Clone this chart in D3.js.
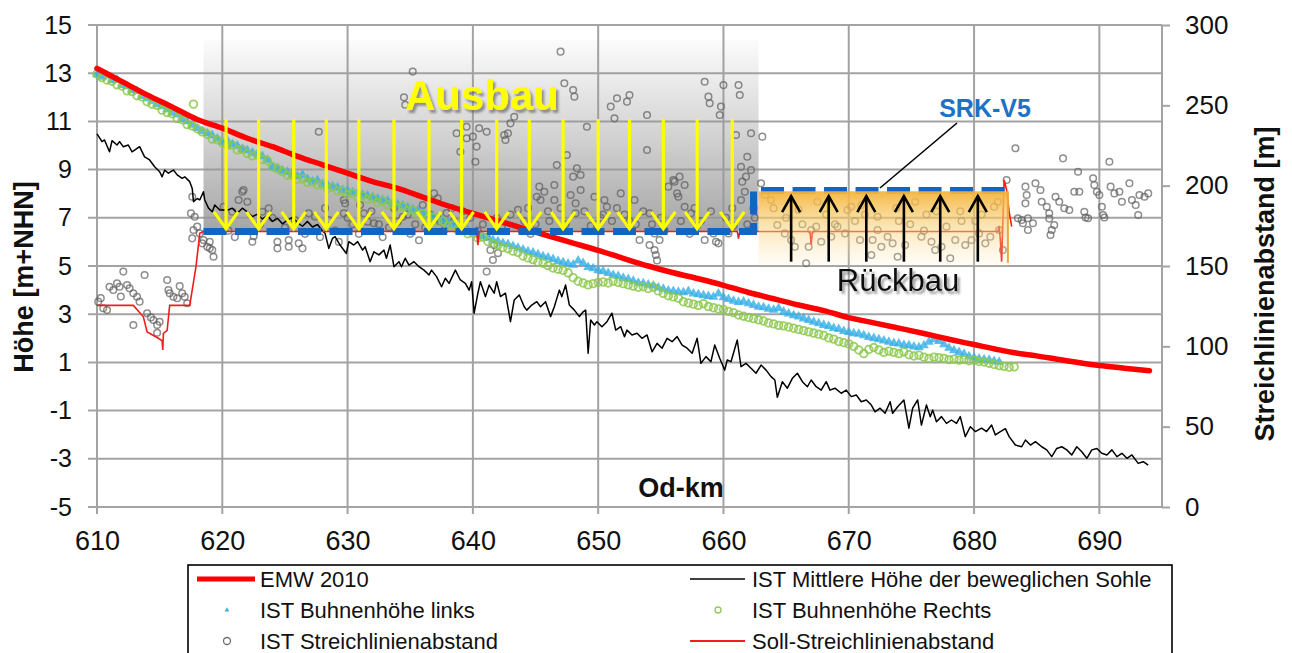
<!DOCTYPE html>
<html>
<head>
<meta charset="utf-8">
<script src="https://cdn.jsdelivr.net/npm/d3@7"></script>
<style>
  body { margin: 0; background: #fff; }
  text { font-family: "Liberation Sans", Arial, sans-serif; fill: #111; }
</style>
</head>
<body>
<svg id="chart" width="1292" height="653"></svg>
<script>
// ---- data (Od-km, Höhe m+NHN / Abstand m) ----
var kmTicks = [610, 620, 630, 640, 650, 660, 670, 680, 690],
    hTicks = [-5, -3, -1, 1, 3, 5, 7, 9, 11, 13, 15],
    mTicks = [0, 50, 100, 150, 200, 250, 300];

var legendLabels = ["EMW 2010", "IST Mittlere Höhe der beweglichen Sohle", "IST Buhnenhöhe links",
  "IST Buhnenhöhe Rechts", "IST Streichlinienabstand", "Soll-Streichlinienabstand"];

// EMW 2010 (left axis)
var emw2010 = [[610,13.2],[612,12.65],[614,12.1],[616,11.6],[618,11.08],[620,10.72],[622,10.3],[624,9.95],
  [626,9.55],[628,9.2],[630,8.85],[632,8.5],[634,8.22],[636,7.86],[638,7.5],[640,7.18],[642,6.88],[644,6.56],
  [646,6.25],[648,5.95],[650,5.65],[652,5.32],[654,5.0],[656,4.72],[658,4.47],[660,4.2],[662,3.9],[664,3.64],
  [666,3.38],[668,3.15],[670,2.86],[672,2.64],[674,2.42],[676,2.2],[678,1.96],[680,1.74],[682,1.52],[683,1.42],
  [685,1.27],[687,1.1],[690,0.87],[692,0.76],[694,0.65]];

// IST mittlere Höhe der beweglichen Sohle (left axis)
var sohle = [[610.0,10.48],[610.4,10.16],[610.6,10.23],[611.0,9.74],[611.2,10.2],[611.6,10.02],[611.8,10.16],
  [612.1,9.95],[612.5,10.02],[612.8,9.74],[613.2,9.88],[613.4,9.95],[613.8,9.53],[614.2,9.4],[614.6,9.12],
  [615.0,8.91],[615.2,8.7],[615.4,8.98],[615.7,8.85],[616.1,8.98],[616.4,8.78],[616.8,8.64],[617.0,8.7],
  [617.4,8.5],[617.6,8.22],[617.7,7.67],[618.0,7.8],[618.2,7.74],[618.5,8.08],[618.6,7.74],[618.9,7.4],
  [619.2,7.25],[619.4,7.53],[619.8,7.32],[620.4,7.32],[620.8,7.4],[621.2,7.19],[621.6,7.4],[622.0,7.25],
  [622.4,7.05],[622.8,7.15],[623.2,6.95],[623.6,7.1],[624.0,6.85],[624.4,6.98],[624.8,6.75],[625.2,6.9],
  [625.6,7.02],[626.0,6.8],[626.4,6.65],[626.8,6.85],[627.2,6.62],[627.6,6.72],[628.0,6.45],[628.2,6.36],
  [628.5,5.73],[628.8,6.15],[629.0,6.22],[629.4,5.87],[629.9,5.52],[630.1,6.01],[630.5,5.87],[630.8,6.01],
  [631.2,5.66],[631.4,5.8],[631.8,5.18],[632.1,5.59],[632.5,5.46],[632.9,5.66],[633.1,5.32],[633.4,5.87],
  [633.7,4.97],[634.1,5.18],[634.3,4.97],[634.6,5.32],[634.9,5.04],[635.3,5.18],[635.7,4.97],[636.1,4.83],
  [636.5,4.63],[636.7,4.83],[637.1,4.56],[637.5,4.14],[637.8,4.49],[638.1,4.28],[638.6,4.83],[639.0,4.42],
  [639.4,4.28],[639.7,4.0],[639.9,4.35],[640.1,3.04],[640.4,3.87],[640.6,4.35],[641.0,3.73],[641.3,4.21],
  [641.7,3.87],[641.9,4.35],[642.2,3.73],[642.6,3.87],[643.0,2.69],[643.3,3.59],[643.7,3.8],[644.1,3.31],
  [644.3,3.17],[644.7,3.38],[645.1,3.52],[645.4,3.31],[645.8,3.52],[646.2,2.9],[646.5,3.31],[646.9,4.0],
  [647.1,3.73],[647.4,4.21],[647.7,3.38],[648.1,3.17],[648.5,2.9],[648.8,3.1],[649.0,3.17],[649.2,1.38],
  [649.4,2.76],[649.7,2.55],[649.9,2.69],[650.3,2.48],[650.7,2.69],[651.1,3.04],[651.4,2.34],[651.8,2.48],
  [652.1,2.07],[652.3,2.34],[652.7,2.14],[653.1,2.21],[653.5,2.0],[653.9,2.14],[654.3,1.44],[654.7,1.79],
  [655.1,1.59],[655.5,2.0],[655.9,1.86],[656.3,2.07],[656.7,1.72],[657.1,1.59],[657.5,1.38],[657.9,2.0],
  [658.2,0.96],[658.6,1.24],[659.0,1.03],[659.3,1.72],[659.7,1.17],[660.1,0.68],[660.3,1.1],[660.6,1.03],
  [661.1,1.93],[661.4,0.82],[661.8,0.96],[662.2,0.76],[662.6,0.55],[663.0,0.89],[663.4,0.68],[663.8,0.41],
  [664.1,0.27],[664.3,-0.45],[664.7,0.2],[665.1,-0.07],[665.5,0.34],[665.9,0.55],[666.3,0.2],[666.7,-0.01],
  [667.0,0.27],[667.4,-0.01],[667.8,-0.15],[668.2,0.2],[668.5,-0.15],[668.9,-0.07],[669.4,-0.28],[669.8,-0.15],
  [670.2,-0.42],[670.6,-0.35],[671.0,-0.63],[671.4,-0.56],[671.8,-0.77],[672.1,-1.05],[672.5,-0.9],[672.9,-1.11],
  [673.3,-0.63],[673.5,-1.11],[673.9,-0.84],[674.4,-0.56],[674.8,-1.73],[675.1,-0.9],[675.5,-0.56],[675.8,-1.6],
  [676.2,-0.77],[676.5,-1.25],[676.7,-0.98],[677.0,-1.46],[677.4,-1.25],[677.8,-1.53],[678.2,-1.39],[678.6,-1.53],
  [678.9,-1.25],[679.3,-2.08],[679.7,-1.67],[680.1,-1.87],[680.6,-1.73],[681.0,-1.87],[681.4,-1.6],[681.7,-2.01],
  [682.1,-1.87],[682.5,-1.75],[682.8,-2.08],[683.3,-2.43],[683.8,-2.5],[684.1,-2.22],[684.5,-2.43],[684.9,-2.29],
  [685.4,-2.5],[685.8,-2.63],[686.2,-2.91],[686.6,-2.57],[687.0,-2.5],[687.4,-2.63],[687.8,-2.84],[688.2,-2.5],
  [688.6,-2.71],[689.0,-2.98],[689.4,-2.63],[689.8,-2.57],[690.2,-2.77],[690.6,-2.84],[691.0,-2.63],[691.4,-2.91],
  [691.8,-2.77],[692.2,-2.98],[692.6,-2.84],[693.1,-3.19],[693.5,-3.12],[693.9,-3.26]];

// IST Buhnenhöhe links (left axis)
var buhneLinks = [[610.0,12.95],[610.4,12.85],[610.8,12.9],[611.2,12.7],[611.6,12.72],[612.0,12.5],[612.4,12.45],
  [612.8,12.3],[613.2,12.25],[613.6,12.05],[614.0,11.95],[614.4,11.85],[614.8,11.7],[615.2,11.62],[615.6,11.5],
  [616.0,11.35],[616.4,11.28],[616.8,11.1],[617.2,11.0],[617.6,10.85],[618.0,10.72],[618.4,10.6],[618.8,10.5],
  [619.2,10.42],[619.6,10.28],[620.0,10.15],[620.4,10.2],[620.8,10.05],[621.2,9.98],[621.6,9.85],[622.0,9.8],
  [622.4,9.7],[622.8,9.65],[623.2,9.55],[623.6,9.4],[624.0,9.1],[624.4,9.05],[624.8,8.95],[625.2,8.9],[625.6,8.8],
  [626.0,8.72],[626.4,8.78],[626.8,8.6],[627.2,8.5],[627.6,8.55],[628.0,8.4],[628.4,8.35],[628.8,8.3],[629.2,8.25],
  [629.6,8.15],[630.0,8.12],[630.4,8.05],[630.8,8.02],[631.2,7.95],[631.6,7.92],[632.0,7.85],[632.4,7.78],
  [632.8,7.72],[633.2,7.7],[633.6,7.6],[634.0,7.55],[634.4,7.5],[634.8,7.42],[635.2,7.35],[635.6,7.28],[636.0,7.2],
  [636.4,7.12],[636.8,7.05],[637.2,6.98],[637.6,6.9],[638.0,6.82],[638.4,6.72],[638.8,6.65],[639.2,6.55],
  [639.6,6.48],[640.0,6.4],[640.4,6.3],[640.8,6.22],[641.2,6.18],[641.6,6.08],[642.0,6.02],[642.4,5.95],[642.8,5.9],
  [643.2,5.82],[643.6,5.75],[644.0,5.68],[644.4,5.6],[644.8,5.55],[645.2,5.48],[645.6,5.4],[646.0,5.35],
  [646.4,5.28],[646.8,5.2],[647.2,5.15],[647.6,5.1],[648.0,5.05],[648.4,5.22],[648.8,5.12],[649.2,4.95],[649.6,4.9],
  [650.0,4.82],[650.4,4.78],[650.8,4.7],[651.2,4.62],[651.6,4.58],[652.0,4.5],[652.4,4.45],[652.8,4.38],[653.2,4.3],
  [653.6,4.28],[654.0,4.22],[654.4,4.18],[654.8,4.1],[655.2,4.05],[655.6,3.98],[656.0,3.95],[656.4,3.92],[656.8,3.9],
  [657.2,3.95],[657.6,3.85],[658.0,3.82],[658.4,3.78],[658.8,3.75],[659.2,3.72],[659.6,3.85],[660.0,3.7],
  [660.4,3.62],[660.8,3.55],[661.2,3.5],[661.6,3.52],[662.0,3.45],[662.4,3.38],[662.8,3.3],[663.2,3.28],
  [663.6,3.22],[664.0,3.18],[664.4,3.25],[664.8,3.1],[665.2,3.02],[665.6,2.95],[666.0,2.9],[666.4,2.82],
  [666.8,2.75],[667.2,2.68],[667.6,2.62],[668.0,2.55],[668.4,2.5],[668.8,2.42],[669.2,2.38],[669.6,2.3],
  [670.0,2.25],[670.4,2.2],[670.8,2.18],[671.2,2.12],[671.6,2.05],[672.0,2.0],[672.4,1.95],[672.8,1.9],
  [673.2,1.85],[673.6,1.8],[674.0,1.78],[674.4,1.72],[674.8,1.7],[675.2,1.65],[675.6,1.62],[676.0,1.7],
  [676.4,1.85],[676.8,1.95],[677.2,1.88],[677.6,1.75],[678.0,1.6],[678.4,1.5],[678.8,1.42],[679.2,1.35],
  [679.6,1.25],[680.0,1.2],[680.4,1.15],[680.8,1.12],[681.2,1.1],[681.6,1.05],[682.0,1.02]];

// IST Buhnenhöhe Rechts (left axis)
var buhneRechts = [[610.0,13.05],[610.4,12.9],[610.8,12.8],[611.2,12.75],[611.6,12.6],[612.0,12.55],[612.4,12.35],
  [612.8,12.32],[613.2,12.15],[613.6,12.1],[614.0,11.9],[614.4,11.8],[614.8,11.75],[615.2,11.55],[615.6,11.45],
  [616.0,11.4],[616.4,11.2],[616.8,11.15],[617.2,10.95],[617.6,10.9],[617.7,11.8],[618.0,10.78],[618.4,10.65],
  [618.8,10.55],[619.2,10.35],[619.6,10.32],[620.0,10.2],[620.4,10.1],[620.8,10.1],[621.2,9.9],[621.6,9.92],
  [622.0,9.75],[622.4,9.65],[622.8,9.7],[623.2,9.5],[623.6,9.45],[624.0,9.2],[624.4,9.12],[624.8,9.0],[625.2,8.85],
  [625.6,8.85],[626.0,8.68],[626.4,8.7],[626.8,8.55],[627.2,8.58],[627.6,8.45],[628.0,8.45],[628.4,8.3],
  [628.8,8.35],[629.2,8.2],[629.6,8.2],[630.0,8.05],[630.4,8.1],[630.8,7.95],[631.2,8.0],[631.6,7.85],[632.0,7.9],
  [632.4,7.72],[632.8,7.78],[633.2,7.62],[633.6,7.65],[634.0,7.5],[634.4,7.55],[634.8,7.38],[635.2,7.4],
  [635.6,7.22],[636.0,7.25],[636.4,7.05],[636.8,7.1],[637.2,6.92],[637.6,6.95],[638.0,6.75],[638.4,6.78],
  [638.8,6.58],[639.2,6.6],[639.6,6.42],[640.0,6.45],[640.4,6.25],[640.8,6.28],[641.2,6.1],[641.6,6.0],
  [642.0,5.95],[642.4,5.85],[642.8,5.8],[643.2,5.7],[643.6,5.65],[644.0,5.5],[644.4,5.42],[644.8,5.35],
  [645.2,5.25],[645.6,5.2],[646.0,5.1],[646.4,5.0],[646.8,4.95],[647.2,4.9],[647.6,4.8],[648.0,4.6],[648.4,4.45],
  [648.8,4.38],[649.2,4.3],[649.6,4.35],[650.0,4.4],[650.4,4.42],[650.8,4.38],[651.2,4.45],[651.6,4.4],
  [652.0,4.35],[652.4,4.3],[652.8,4.25],[653.2,4.2],[653.6,4.22],[654.0,4.15],[654.4,4.2],[654.8,4.05],
  [655.2,3.95],[655.6,3.85],[656.0,3.8],[656.4,3.75],[656.8,3.6],[657.2,3.55],[657.6,3.5],[658.0,3.45],
  [658.4,3.52],[658.8,3.4],[659.2,3.35],[659.6,3.3],[660.0,3.28],[660.4,3.2],[660.8,3.15],[661.2,3.05],
  [661.6,3.0],[662.0,2.95],[662.4,2.9],[662.8,2.85],[663.2,2.8],[663.6,2.72],[664.0,2.68],[664.4,2.62],
  [664.8,2.6],[665.2,2.55],[665.6,2.5],[666.0,2.45],[666.4,2.4],[666.8,2.35],[667.2,2.3],[667.6,2.25],
  [668.0,2.2],[668.4,2.1],[668.8,2.05],[669.2,1.95],[669.6,1.9],[670.0,1.85],[670.4,1.75],[670.8,1.6],
  [671.2,1.45],[671.6,1.62],[672.0,1.7],[672.4,1.6],[672.8,1.5],[673.2,1.55],[673.6,1.5],[674.0,1.45],
  [674.4,1.52],[674.8,1.4],[675.2,1.35],[675.6,1.38],[676.0,1.3],[676.4,1.25],[676.8,1.3],[677.2,1.28],
  [677.6,1.25],[678.0,1.2],[678.4,1.22],[678.8,1.18],[679.2,1.2],[679.6,1.15],[680.0,1.18],[680.4,1.12],
  [680.8,1.1],[681.2,1.05],[681.6,1.0],[682.0,0.95],[682.4,0.92],[682.8,0.88],[683.2,0.9]];

// IST Streichlinienabstand (right axis, m)
var streichIst = [[610.1,127.8],[610.3,130],[610.5,123.7],[610.8,122.6],[611.0,137.1],[611.3,135.1],[611.6,139.2],
  [611.8,137.1],[611.9,131],[612.1,146.5],[612.4,138.2],[612.6,136.1],[612.9,133.0],[612.9,113.3],[613.2,130.9],
  [613.4,127.8],[613.8,144.4],[614.0,120.6],[614.3,118],[614.5,116.4],[614.8,113.3],[614.8,108.5],[615.0,115.3],
  [615.6,141.3],[615.7,135.1],[615.8,133.0],[616.1,130.9],[616.4,129.9],[616.6,137.5],[616.8,133.0],[617.0,130.9],
  [617.2,126.8],[617.5,182.8],[617.6,193.1],[617.6,167.2],[617.7,172.4],[617.8,180.7],[618.0,174.5],[618.2,170.3],
  [618.4,164.1],[618.5,166.2],[618.8,162.0],[619.0,165.1],[619.0,161.0],[619.2,160.0],[619.3,155.8],
  [620.1,186.9],[620.5,172],[620.8,183.8],[621.0,168],[621.3,191.1],[621.6,196.2],[621.7,197.3],[622.0,190.0],
  [622.4,165.1],[622.5,168.5],[623.0,176],[623.2,183.8],[623.7,185.9],[624.0,180],[624.4,165.1],[624.4,161.0],
  [625.0,174],[625.3,166.2],[625.3,162.0],[625.8,178.6],[626.1,164.1],[626.4,161.0],[626.6,170],[626.9,182.8],
  [627.4,180.7],[627.7,233.6],[627.8,168],[628.2,186],[628.5,178.6],[629.0,172],[629.3,165],[629.7,191.1],
  [629.8,189.0],[629.7,182.8],[630.0,180],[630.4,176],[630.9,170],[631.0,188],[631.3,182.8],[631.6,177.6],
  [631.9,184],[632.1,176.6],[632.5,176],[632.8,168],[633.3,174],[633.7,186],[634.0,177.6],[634.4,180.7],
  [634.5,255],[634.6,250.4],[634.8,182],[635.2,271.0],[635.0,170],[635.4,176],[635.7,166],[636.0,188],
  [636.2,174],[636.6,182],[636.9,195.2],[637.2,192.1],[637.2,179.7],[637.4,177.6],[637.7,172],[637.9,183],
  [638.3,186],[638.5,178],[638.7,232.6],[639.0,221.1],[639.2,184],[639.5,236.7],[639.5,229.5],[639.8,180],
  [640.0,230.5],[640.2,214.9],[640.3,224.3],[640.4,172],[640.5,235.7],[640.8,176],[641.1,233.6],[641.1,168.2],
  [641.4,160.0],[641.6,153.7],[641.7,163.1],[641.1,146.5],[641.9,180],[642.0,158],[642.3,174],[642.5,231.5],
  [642.6,228.4],[642.8,232.6],[643.0,238.8],[643.0,182],[643.3,242.9],[643.6,185],[643.9,172],[644.1,178],
  [644.4,186],[644.6,170],[645.0,176],[645.1,193.1],[645.3,199.4],[645.4,191.1],[645.7,196.2],[646.0,184],
  [646.1,178],[646.5,200.4],[646.5,191.1],[646.7,212.9],[647.0,283.4],[647.0,186],[647.3,263.7],[647.4,176],
  [647.5,219.1],[647.8,194.2],[648.0,259.5],[648.0,205.6],[648.1,255.4],[648.2,189.0],[648.2,182.8],[648.3,210.8],
  [648.6,206.6],[648.6,197.3],[648.9,184],[649.1,236.7],[649.4,175],[649.7,193.1],[649.9,176],[650.2,180],
  [650.4,182],[650.5,191.1],[650.7,186.9],[651.0,249.2],[651.1,178],[651.3,241.9],[651.5,254.4],[651.5,186],
  [651.8,195.2],[652.1,182],[652.3,252.3],[652.5,256.4],[652.5,178],[652.9,191.1],[653.0,176],[653.3,166.2],
  [653.6,184],[653.9,244.0],[653.9,222.2],[654.1,182.8],[654.1,163.1],[654.3,176],[654.5,170.3],[654.5,160.0],
  [654.6,156.8],[654.7,153.5],[654.9,166.2],[655.0,180],[655.3,172],[655.6,199.4],[656.0,203.5],[656.1,202.5],
  [656.3,195.2],[656.4,193.1],[656.5,205.6],[656.6,178],[656.9,200.4],[656.9,186.9],[657.3,170],[657.4,182.8],
  [657.7,186],[657.9,175],[658.2,178],[658.5,264.7],[658.5,166.2],[658.8,255.4],[658.9,251.3],[659.0,184],
  [659.2,170.3],[659.4,165.1],[659.6,164.1],[659.7,244.0],[659.8,249.2],[660.0,262.6],[660.2,180],[660.4,170.3],
  [660.7,186],[660.8,175],[661.0,231.5],[661.2,262.6],[661.3,256.4],[661.4,211.8],[661.4,191.1],[661.5,202.5],
  [661.7,196.2],[661.8,205.6],[661.9,218.0],[661.9,176],[662.2,232.6],[662.2,209.7],[662.4,186],[662.5,180],
  [663.1,230.5],[663.0,201.5],[663.3,194.2],[663.8,191.1],[664.0,186],[664.3,175.5],[664.9,170.3],[665.0,180],
  [665.4,166.2],[665.7,162.0],[666.0,185],[666.3,176],[666.6,151.7],[666.8,162.0],[667.0,172.4],[667.4,174.5],
  [667.5,190.0],[667.8,165.1],[668.2,182],[668.6,168.2],[668.9,176],[669.1,174.5],[669.7,170.3],[669.9,184.9],
  [670.2,186.9],[670.5,178],[670.9,166.2],[671.0,188],[671.3,182],[671.8,156.8],[671.9,166.2],[672.3,172.4],
  [672.3,180.7],[672.6,162.0],[673.1,168.2],[673.5,164.1],[673.8,186],[673.9,155.8],[674.0,178],[674.5,163.1],
  [674.9,176],[675.3,190.0],[675.8,168.2],[676.0,172],[676.2,182],[676.6,165.1],[676.9,160.0],[677.0,184],
  [677.4,162.0],[677.8,174.5],[678.1,154.8],[678.5,166.2],[678.9,184],[679.0,178],[679.3,163.1],[679.8,166.2],
  [680.1,178],[680.4,170.3],[680.6,182],[680.9,164.1],[681.3,168.2],[681.6,186.9],[681.9,190],[682.0,172.4],
  [682.3,160],[682.6,203.5],[683.3,223.3],[683.5,179.7],[683.8,178.6],[683.9,176.6],[684.1,199.4],[684.1,189.0],
  [684.2,194.2],[684.3,179.7],[684.3,172.4],[684.7,176.6],[684.9,201.5],[685.3,197.3],[685.4,190.0],[685.8,186.9],
  [686.0,182.8],[686.0,179.5],[686.1,169.3],[686.2,172.4],[686.4,175.5],[686.5,193.1],[686.8,190.0],[687.1,217.0],
  [687.2,185.9],[687.6,184.9],[688.0,196.2],[688.3,208.7],[688.4,196.2],[688.8,183.8],[688.9,180.2],[689.1,179.7],
  [689.5,204.6],[689.6,200.4],[689.8,196.2],[690.0,194.2],[690.2,186.9],[690.3,181.7],[690.4,180.2],[690.8,214.9],
  [690.9,199.4],[691.2,195.2],[691.6,196.2],[691.8,190.0],[692.4,201.5],[692.6,191.1],[692.9,188.0],[693.1,181.7],
  [693.2,194.2],[693.6,193.1],[693.9,195.2]];

// Soll-Streichlinienabstand (right axis, m)
var streichSoll = [[610,125.5],[612.9,125.5],[613.7,118.4],[614.0,109],[614.9,105],[615.2,103.5],[615.25,97.7],
  [615.3,108],[615.6,110],[615.8,125.5],[617.4,125.5],[617.9,149.6],[618.2,170.3],[618.5,171.5],[640.3,171.5],
  [640.4,163],[640.5,171.5],[661.1,171.5],[661.2,167],[661.3,171.5],[666.9,171.5],[667.0,163.5],[667.1,171.5],
  [681.9,171.5],[682.0,175],[682.1,166],[682.2,152.7],[682.4,203.5],[682.6,197.3],[682.8,183.8],[683.0,174.5]];

// Planung SRK-V5 (right axis, m)
var srkV5 = [[618.5,171.5],[662.4,171.5],[662.4,197],[682.6,197]];

// Annotations
var ausbauArrowKm = [620.3,622.9,625.7,628.3,630.9,633.7,636.5,639.1,641.9,644.5,647.2,650.0,652.5,655.2,657.9,660.7],
    ausbauArrowH = [11.1, 6.5],
    rueckbauArrowKm = [665.4,668.4,671.4,674.4,677.3,680.3],
    rueckbauArrowH = [5.18, 7.9],
    ausbauZone = { km: [618.5, 662.8], h: [14.4, 6.45] },
    rueckbauZone = { km: [662.8, 682.7], h: [8.1, 5.0] };

// ---- chart ----
var svg = d3.select("#chart");
var x = d3.scaleLinear().domain([610, 695]).range([97, 1162]),
    yL = d3.scaleLinear().domain([-5, 15]).range([507, 25]),
    yR = d3.scaleLinear().domain([0, 300]).range([507, 25]);

var gridCol = "#a3a3a3";

var defs = svg.append("defs");
var gGrey = defs.append("linearGradient").attr("id", "greyGrad")
    .attr("x1", 0).attr("y1", 0).attr("x2", 0).attr("y2", 1);
gGrey.append("stop").attr("offset", "0%").attr("stop-color", "#969696").attr("stop-opacity", 0.03);
gGrey.append("stop").attr("offset", "45%").attr("stop-color", "#969696").attr("stop-opacity", 0.38);
gGrey.append("stop").attr("offset", "100%").attr("stop-color", "#969696").attr("stop-opacity", 0.85);
var gOr = defs.append("linearGradient").attr("id", "orGrad")
    .attr("x1", 0).attr("y1", 0).attr("x2", 0).attr("y2", 1);
gOr.append("stop").attr("offset", "0%").attr("stop-color", "#f4b43a").attr("stop-opacity", 0.95);
gOr.append("stop").attr("offset", "45%").attr("stop-color", "#f8cd6e").attr("stop-opacity", 0.55);
gOr.append("stop").attr("offset", "100%").attr("stop-color", "#fde7b0").attr("stop-opacity", 0.1);
var shadow = defs.append("filter").attr("id", "shadow")
    .attr("x", "-10%").attr("y", "-20%").attr("width", "130%").attr("height", "150%");
shadow.append("feDropShadow").attr("dx", 2.5).attr("dy", 3).attr("stdDeviation", 1.2)
    .attr("flood-color", "#555").attr("flood-opacity", 0.6);

// grid
var grid = svg.append("g").attr("class", "grid");
grid.selectAll(".hg").data(hTicks).enter().append("line")
    .attr("x1", 88).attr("x2", x(695))
    .attr("y1", function(d) { return yL(d); }).attr("y2", function(d) { return yL(d); })
    .attr("stroke", gridCol).attr("stroke-width", 2);
grid.selectAll(".vg").data(kmTicks).enter().append("line")
    .attr("x1", function(d) { return x(d); }).attr("x2", function(d) { return x(d); })
    .attr("y1", yL(15)).attr("y2", yL(-5) + 7)
    .attr("stroke", gridCol).attr("stroke-width", 2);
grid.append("line")
    .attr("x1", x(695)).attr("x2", x(695)).attr("y1", yR(300)).attr("y2", yR(0))
    .attr("stroke", gridCol).attr("stroke-width", 2);

// shaded zones
svg.append("rect")
    .attr("x", x(ausbauZone.km[0])).attr("y", yL(ausbauZone.h[0]))
    .attr("width", x(ausbauZone.km[1]) - x(ausbauZone.km[0]))
    .attr("height", yL(ausbauZone.h[1]) - yL(ausbauZone.h[0]))
    .attr("fill", "url(#greyGrad)");

// axes (plain hyphen for negatives, as in the original)
var fmt = function(d) { return String(d); };
var axL = svg.append("g").attr("transform", "translate(" + x(610) + ",0)")
    .call(d3.axisLeft(yL).tickValues(hTicks).tickFormat(fmt).tickSize(0).tickPadding(25));
var axB = svg.append("g").attr("transform", "translate(0," + yL(-5) + ")")
    .call(d3.axisBottom(x).tickValues(kmTicks).tickFormat(fmt).tickSize(0).tickPadding(24));
var axR = svg.append("g").attr("transform", "translate(" + x(695) + ",0)")
    .call(d3.axisRight(yR).tickValues(mTicks).tickFormat(fmt).tickSize(8).tickPadding(15));
[axL, axB, axR].forEach(function(a) {
  a.select(".domain").remove();
  a.selectAll(".tick line").attr("stroke", gridCol).attr("stroke-width", 2);
  a.selectAll(".tick text").attr("fill", "#111").style("font-family", '"Liberation Sans", Arial, sans-serif');
});
axL.selectAll(".tick text").style("font-size", "25px");
axB.selectAll(".tick text").style("font-size", "27px");
axR.selectAll(".tick text").style("font-size", "26px");

// axis titles
svg.append("text").attr("transform", "translate(33,277) rotate(-90)")
    .attr("text-anchor", "middle").style("font-size", "27px").style("font-weight", "bold")
    .text("Höhe [m+NHN]");
svg.append("text").attr("transform", "translate(1274,284) rotate(-90)")
    .attr("text-anchor", "middle").style("font-size", "27px").style("font-weight", "bold")
    .text("Streichlinienabstand [m]");
svg.append("text").attr("x", 681).attr("y", 497)
    .attr("text-anchor", "middle").style("font-size", "27px").style("font-weight", "bold")
    .text("Od-km");

// series
var plot = svg.append("g");
plot.selectAll(".grey").data(streichIst).enter().append("circle")
    .attr("cx", function(d) { return x(d[0]); }).attr("cy", function(d) { return yR(d[1]); })
    .attr("r", 3.3).attr("fill", "none").attr("stroke", "#5e5e5e").attr("stroke-opacity", 0.7)
    .attr("stroke-width", 1.5);

var tri = d3.symbol().type(d3.symbolTriangle).size(42);
plot.selectAll(".links").data(buhneLinks).enter().append("path")
    .attr("d", tri)
    .attr("transform", function(d) { return "translate(" + x(d[0]) + "," + yL(d[1]) + ")"; })
    .attr("fill", "#33afe6").attr("fill-opacity", 0.8);
plot.selectAll(".rechts").data(buhneRechts).enter().append("circle")
    .attr("cx", function(d) { return x(d[0]); }).attr("cy", function(d) { return yL(d[1]) + 2; })
    .attr("r", 3.8).attr("fill", "none").attr("stroke", "#8cc84b").attr("stroke-opacity", 0.85)
    .attr("stroke-width", 1.8);

// Rückbau zone drawn over the scatter
svg.append("rect")
    .attr("x", x(rueckbauZone.km[0])).attr("y", yL(rueckbauZone.h[0]))
    .attr("width", x(rueckbauZone.km[1]) - x(rueckbauZone.km[0]))
    .attr("height", yL(rueckbauZone.h[1]) - yL(rueckbauZone.h[0]))
    .attr("fill", "url(#orGrad)");
svg.append("line")
    .attr("x1", x(rueckbauZone.km[1])).attr("x2", x(rueckbauZone.km[1]))
    .attr("y1", yL(rueckbauZone.h[0])).attr("y2", yR(152))
    .attr("stroke", "#f0a638").attr("stroke-width", 2);

var lineL = d3.line().x(function(d) { return x(d[0]); }).y(function(d) { return yL(d[1]); });
var lineR = d3.line().x(function(d) { return x(d[0]); }).y(function(d) { return yR(d[1]); });

plot.append("path").datum(sohle).attr("d", lineL)
    .attr("fill", "none").attr("stroke", "#000").attr("stroke-width", 1.5).attr("stroke-linejoin", "round");
plot.append("path").datum(streichSoll).attr("d", lineR)
    .attr("fill", "none").attr("stroke", "#f21c1c").attr("stroke-width", 1.6);
plot.append("path").datum(emw2010).attr("d", lineL.curve(d3.curveMonotoneX))
    .attr("fill", "none").attr("stroke", "#ff0000").attr("stroke-width", 5.5).attr("stroke-linecap", "round");
lineL.curve(d3.curveLinear);

// SRK-V5 planned line
plot.append("path").datum(srkV5).attr("d", lineR)
    .attr("fill", "none").attr("stroke", "#1565c0").attr("stroke-width", 7)
    .attr("stroke-dasharray", "23,8.5");

// arrows
function arrow(g, x0, y0, x1, y1, hw, hl, col, sw) {
  var dir = y1 < y0 ? 1 : -1;
  g.append("line").attr("x1", x0).attr("y1", y0).attr("x2", x1).attr("y2", y1)
      .attr("stroke", col).attr("stroke-width", sw);
  g.append("path")
      .attr("d", "M" + (x1 - hw) + "," + (y1 + dir * hl) + "L" + x1 + "," + y1 + "L" + (x1 + hw) + "," + (y1 + dir * hl))
      .attr("fill", "none").attr("stroke", col).attr("stroke-width", sw).attr("stroke-linejoin", "miter");
}
var arrG = svg.append("g");
ausbauArrowKm.forEach(function(k) {
  arrow(arrG, x(k), yL(ausbauArrowH[0]), x(k), yL(ausbauArrowH[1]) - 1, 12, 17, "#ffff00", 3.2);
});
rueckbauArrowKm.forEach(function(k) {
  arrow(arrG, x(k), yL(rueckbauArrowH[0]), x(k), yL(rueckbauArrowH[1]), 9, 16, "#000", 2.6);
});

// labels
svg.append("text").attr("x", 482).attr("y", 110).attr("text-anchor", "middle")
    .attr("filter", "url(#shadow)")
    .style("font-size", "42px").style("font-weight", "bold").style("fill", "#ffff00")
    .text("Ausbau");
svg.append("text").attr("x", 898).attr("y", 291).attr("text-anchor", "middle")
    .attr("filter", "url(#shadow)")
    .style("font-size", "31px").style("fill", "#111")
    .text("Rückbau");
svg.append("text").attr("x", 985).attr("y", 117).attr("text-anchor", "middle")
    .style("font-size", "25px").style("font-weight", "bold").style("fill", "#1b72c6")
    .text("SRK-V5");
svg.append("line").attr("x1", 957).attr("y1", 123).attr("x2", 880).attr("y2", 188)
    .attr("stroke", "#000").attr("stroke-width", 1.6);

// legend
var lg = svg.append("g");
lg.append("rect").attr("x", 188).attr("y", 565).attr("width", 984).attr("height", 100)
    .attr("fill", "#fff").attr("stroke", "#000").attr("stroke-width", 1.6);
var rows = [579, 610, 641], colX = [197, 690], txtX = [260, 752];
legendLabels.forEach(function(lab, i) {
  var c = i % 2, r = Math.floor(i / 2), cy = rows[r];
  if (i === 0) lg.append("line").attr("x1", colX[c]).attr("x2", colX[c] + 58).attr("y1", cy).attr("y2", cy)
      .attr("stroke", "#ff0000").attr("stroke-width", 5);
  if (i === 1) lg.append("line").attr("x1", colX[c]).attr("x2", colX[c] + 55).attr("y1", cy).attr("y2", cy)
      .attr("stroke", "#000").attr("stroke-width", 1.5);
  if (i === 2) lg.append("path").attr("d", d3.symbol().type(d3.symbolTriangle).size(10))
      .attr("transform", "translate(" + (colX[c] + 30) + "," + cy + ")").attr("fill", "#3fb3e8");
  if (i === 3) lg.append("circle").attr("cx", colX[c] + 28).attr("cy", cy).attr("r", 3)
      .attr("fill", "none").attr("stroke", "#93c958").attr("stroke-width", 1.3);
  if (i === 4) lg.append("circle").attr("cx", colX[c] + 30).attr("cy", cy).attr("r", 3.5)
      .attr("fill", "none").attr("stroke", "#6e6e6e").attr("stroke-width", 1.3);
  if (i === 5) lg.append("line").attr("x1", colX[c]).attr("x2", colX[c] + 55).attr("y1", cy).attr("y2", cy)
      .attr("stroke", "#f21c1c").attr("stroke-width", 1.8);
  lg.append("text").attr("x", txtX[c]).attr("y", cy + 8).style("font-size", "22px").text(lab);
});
</script>
</body>
</html>
